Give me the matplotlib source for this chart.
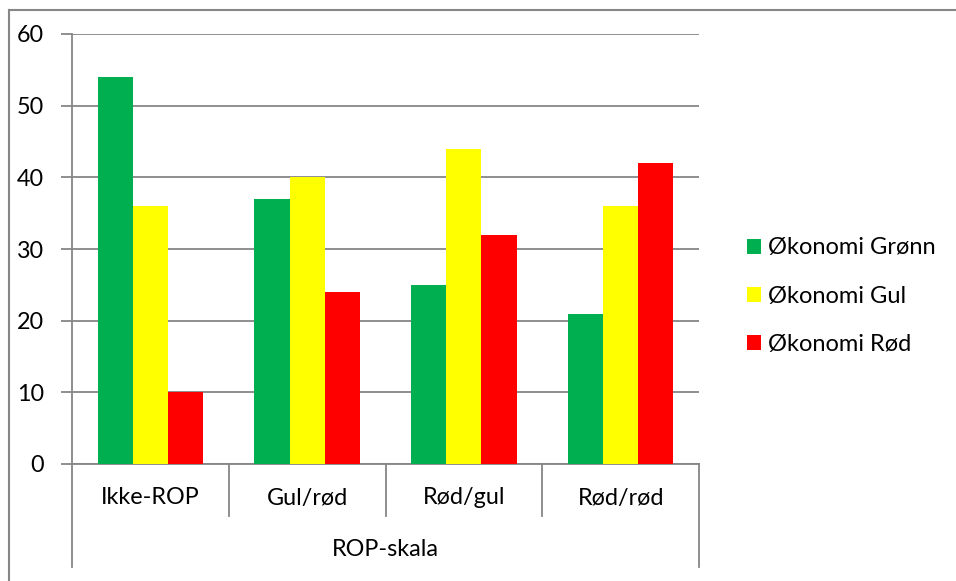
import matplotlib
matplotlib.use("Agg")
import matplotlib.pyplot as plt
import matplotlib.transforms as mtransforms
from matplotlib.lines import Line2D
import numpy as np

plt.rcParams['font.family'] = ['Lato', 'DejaVu Sans']

categories = ["Ikke-ROP", "Gul/rød", "Rød/gul", "Rød/rød"]
series_names = ["Økonomi Grønn", "Økonomi Gul", "Økonomi Rød"]
gronn = [54, 37, 25, 21]
gul = [36, 40, 44, 36]
rod = [10, 24, 32, 42]
axis_title = "ROP-skala"
y_ticks = [0, 10, 20, 30, 40, 50, 60]

colors = ["#00B050", "#FFFF00", "#FF0000"]
grid_col = "#868686"
fs = 16.8

W, H = 956, 581
fig = plt.figure(figsize=(W / 100, H / 100), dpi=100)

# outer chart frame (top and left edges visible)
fig.add_artist(Line2D([9 / W, 9 / W], [0, 1 - 10 / H], transform=fig.transFigure,
                      color=grid_col, lw=1.5))
fig.add_artist(Line2D([9 / W, 1], [1 - 10 / H, 1 - 10 / H], transform=fig.transFigure,
                      color=grid_col, lw=1.5))

left, right = 72 / W, 699 / W
bottom, top = 1 - 464 / H, 1 - 34 / H
ax = fig.add_axes([left, bottom, right - left, top - bottom])

x = np.arange(len(categories)) + 0.5
bw = 0.224
for i, (vals, name) in enumerate(zip([gronn, gul, rod], series_names)):
    ax.bar(x + (i - 1) * bw, vals, width=bw, color=colors[i], label=name, zorder=3)

ax.set_xlim(0, len(categories))
ax.set_ylim(0, 60)
ax.set_yticks(y_ticks)
ax.set_yticklabels([str(v) for v in y_ticks], fontsize=fs)
ax.yaxis.grid(True, color=grid_col, lw=1.3, zorder=0)
ax.tick_params(axis='y', length=8, width=1.3, color=grid_col, pad=12)
ax.set_xticks([])
for s in ["top", "right"]:
    ax.spines[s].set_visible(False)
for s in ["left", "bottom"]:
    ax.spines[s].set_color(grid_col)
    ax.spines[s].set_linewidth(1.3)

# category axis boxes below the plot
trans = mtransforms.blended_transform_factory(ax.transData, ax.transAxes)
inner = -(516 - 464) / 430
outer = -(567 - 464) / 430
for k in range(len(categories) + 1):
    ylow = outer if k in (0, len(categories)) else inner
    ax.add_line(Line2D([k, k], [0, ylow], transform=trans, color=grid_col,
                       lw=1.3, clip_on=False))
for xi, lab in zip(x, categories):
    ax.text(xi, -(498 - 464) / 430, lab, transform=trans, ha='center', va='center',
            fontsize=fs, color="#000000")
ax.text(len(categories) / 2, -(550 - 464) / 430, axis_title, transform=trans,
        ha='center', va='center', fontsize=fs, color="#000000")

leg = fig.legend(loc='center left', bbox_to_anchor=(747 / W, 1 - 296 / H),
                 frameon=False, fontsize=17, handlelength=0.6, handleheight=0.6,
                 handletextpad=0.3, labelspacing=1.15, borderpad=0,
                 borderaxespad=0)

fig.savefig("out.png", dpi=100, facecolor="white")
